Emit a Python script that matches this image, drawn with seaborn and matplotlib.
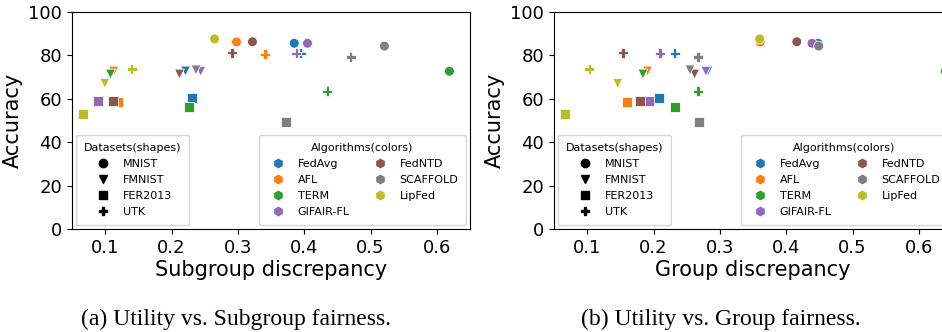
import numpy as np
import matplotlib
matplotlib.use('Agg')
import matplotlib.pyplot as plt
import seaborn as sns
import pandas as pd
from matplotlib.lines import Line2D

# ----------------- Data -----------------#
algorithms = ['FedAvg', 'AFL', 'TERM', 'GIFAIR-FL', 'FedNTD', 'SCAFFOLD', 'LipFed']
datasets = ['MNIST', 'FMNIST', 'FER2013', 'UTK']

# accuracy per algorithm, in dataset order (MNIST, FMNIST, FER2013, UTK)
accuracy = {
    'FedAvg':    [85.6, 72.8, 60.2, 81.0],
    'AFL':       [86.2, 72.8, 58.4, 80.5],
    'TERM':      [72.7, 71.4, 56.4, 63.5],
    'GIFAIR-FL': [85.6, 72.7, 59.0, 81.0],
    'FedNTD':    [86.3, 71.4, 59.0, 81.2],
    'SCAFFOLD':  [84.3, 73.3, 49.3, 79.3],
    'LipFed':    [87.6, 67.1, 52.9, 73.7],
}
subgroup_disc = {
    'FedAvg':    [0.385, 0.221, 0.231, 0.395],
    'AFL':       [0.298, 0.113, 0.119, 0.341],
    'TERM':      [0.619, 0.108, 0.226, 0.435],
    'GIFAIR-FL': [0.405, 0.244, 0.089, 0.388],
    'FedNTD':    [0.322, 0.212, 0.112, 0.291],
    'SCAFFOLD':  [0.521, 0.237, 0.372, 0.470],
    'LipFed':    [0.265, 0.0995, 0.067, 0.140],
}
group_disc = {
    'FedAvg':    [0.448, 0.282, 0.208, 0.232],
    'AFL':       [0.361, 0.191, 0.160, 0.210],
    'TERM':      [0.640, 0.184, 0.232, 0.267],
    'GIFAIR-FL': [0.439, 0.279, 0.194, 0.210],
    'FedNTD':    [0.416, 0.262, 0.180, 0.154],
    'SCAFFOLD':  [0.449, 0.255, 0.268, 0.267],
    'LipFed':    [0.360, 0.146, 0.067, 0.103],
}

colors = ['tab:blue', 'tab:orange', 'tab:green', 'tab:purple', 'tab:brown', 'tab:gray', 'tab:olive']
palette = dict(zip(algorithms, colors))
shapes = dict(zip(datasets, ['o', 'v', 's', 'P']))

rows = []
for alg in algorithms:
    for i, ds in enumerate(datasets):
        rows.append({'algorithm': alg, 'dataset': ds, 'accuracy': accuracy[alg][i],
                     'subgroup': subgroup_disc[alg][i], 'group': group_disc[alg][i]})
df = pd.DataFrame(rows)

# ----------------- Plot -----------------#
fig = plt.figure(figsize=(9.42, 3.32), dpi=100)
ax1 = fig.add_axes([72 / 942, 1 - 229 / 332, 398 / 942, 217 / 332])
ax2 = fig.add_axes([554 / 942, 1 - 229 / 332, 398 / 942, 217 / 332])

leg_kw = dict(fontsize=8, title_fontsize=8, labelspacing=0.55, borderpad=0.7, borderaxespad=0.35)

for ax, col, xlab in [(ax1, 'subgroup', 'Subgroup discrepancy'), (ax2, 'group', 'Group discrepancy')]:
    sns.scatterplot(data=df, x=col, y='accuracy', hue='algorithm', style='dataset',
                    palette=palette, markers=shapes, s=50, ax=ax, legend=False)
    ax.set_xlim(0.05, 0.65)
    ax.set_ylim(0, 100)
    ax.set_xticks([0.1, 0.2, 0.3, 0.4, 0.5, 0.6])
    ax.set_yticks([0, 20, 40, 60, 80, 100])
    ax.tick_params(labelsize=13)
    ax.set_xlabel(xlab, fontsize=15, labelpad=2)
    ax.set_ylabel('Accuracy', fontsize=15)

    shape_handles = [Line2D([], [], marker=shapes[d], color='black', linestyle='', markersize=6)
                     for d in datasets]
    leg1 = ax.legend(shape_handles, datasets, title='Datasets(shapes)', loc='lower left', **leg_kw)
    ax.add_artist(leg1)
    color_handles = [Line2D([], [], marker='h', color=palette[a], linestyle='', markersize=6)
                     for a in algorithms]
    ax.legend(color_handles, algorithms, title='Algorithms(colors)', loc='lower right',
              ncol=2, columnspacing=1.7, **leg_kw)

fig.text(236 / 942, 6.5 / 332, '(a) Utility vs. Subgroup fairness.', ha='center', va='baseline',
         family='Liberation Serif', fontsize=17)
fig.text(721 / 942, 6.5 / 332, '(b) Utility vs. Group fairness.', ha='center', va='baseline',
         family='Liberation Serif', fontsize=17)

plt.savefig('out.png', dpi=100)
